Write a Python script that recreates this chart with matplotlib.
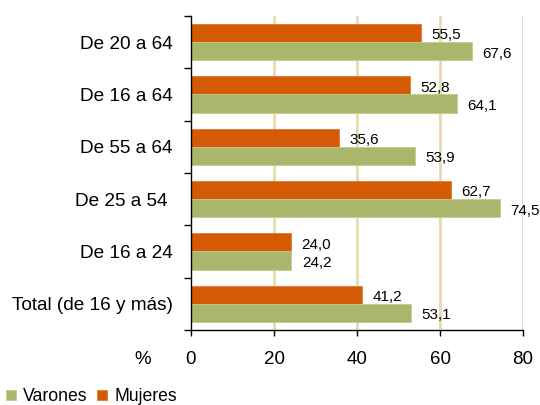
import matplotlib
matplotlib.use('Agg')
import matplotlib.pyplot as plt
import numpy as np

categories = ['De 20 a 64', 'De 16 a 64', 'De 55 a 64', 'De 25 a 54 ',
              'De 16 a 24', 'Total (de 16 y más)']
mujeres = [55.5, 52.8, 35.6, 62.7, 24.0, 41.2]
varones = [67.6, 64.1, 53.9, 74.5, 24.2, 53.1]
x_ticks = [0, 20, 40, 60, 80]

orange = '#d45a06'
green = '#a9b66c'
grid_tan = '#e6dbb0'

plt.rcParams['font.family'] = ['Liberation Sans', 'DejaVu Sans']

fig = plt.figure(figsize=(5.4, 4.05), dpi=100)
fig.patch.set_facecolor('white')
ax = fig.add_axes([0.3537, 0.1852, 0.615, 0.7753])

n = len(categories)
pos = np.arange(n)
h = 0.345

bars_m = ax.barh(pos - h / 2, mujeres, height=h, color=orange,
                 edgecolor='#e07a30', linewidth=0.6, label='Mujeres', zorder=3)
bars_v = ax.barh(pos + h / 2, varones, height=h, color=green,
                 edgecolor='#c3cc8a', linewidth=0.6, label='Varones', zorder=3)

def fmt(v):
    return f'{v:.1f}'.replace('.', ',')

for bar, v in zip(bars_m, mujeres):
    ax.text(v + 2.5, bar.get_y() + bar.get_height() / 2 + 0.04, fmt(v),
            ha='left', va='center', fontsize=11, color='black')
for bar, v in zip(bars_v, varones):
    ax.text(v + 2.5, bar.get_y() + bar.get_height() / 2 + 0.05, fmt(v),
            ha='left', va='center', fontsize=11, color='black')

ax.set_xlim(0, 80)
ax.set_ylim(n - 0.5, -0.5)
ax.set_xticks(x_ticks)
ax.set_xticklabels([str(t) for t in x_ticks], fontsize=13.5)
ax.tick_params(axis='x', direction='out', length=4, width=1, pad=11)

ax.set_yticks(pos)
ax.set_yticklabels(categories, fontsize=13.7)
ax.tick_params(axis='y', which='major', length=0, pad=13)
ax.set_yticks(np.arange(n + 1) - 0.5, minor=True)
ax.tick_params(axis='y', which='minor', direction='out', length=5, width=1)

for t in x_ticks[1:]:
    ax.axvline(t, color=grid_tan, linewidth=2, zorder=1)

for s in ['top', 'right']:
    ax.spines[s].set_visible(False)
ax.spines['left'].set_linewidth(1)
ax.spines['bottom'].set_linewidth(1)
ax.spines['left'].set_zorder(4)

fig.text(143 / 540, 1 - 360 / 405, '%', ha='center', va='center', fontsize=13.5)

fig.legend(handles=[bars_v, bars_m], labels=['Varones', 'Mujeres'],
           loc='center left', bbox_to_anchor=(0.012, 0.02), ncol=2,
           frameon=False, fontsize=12.7, handlelength=0.55, handleheight=0.55,
           handletextpad=0.4, columnspacing=0.55, borderaxespad=0,
           borderpad=0)

fig.savefig('out.png', dpi=100, facecolor='white')
